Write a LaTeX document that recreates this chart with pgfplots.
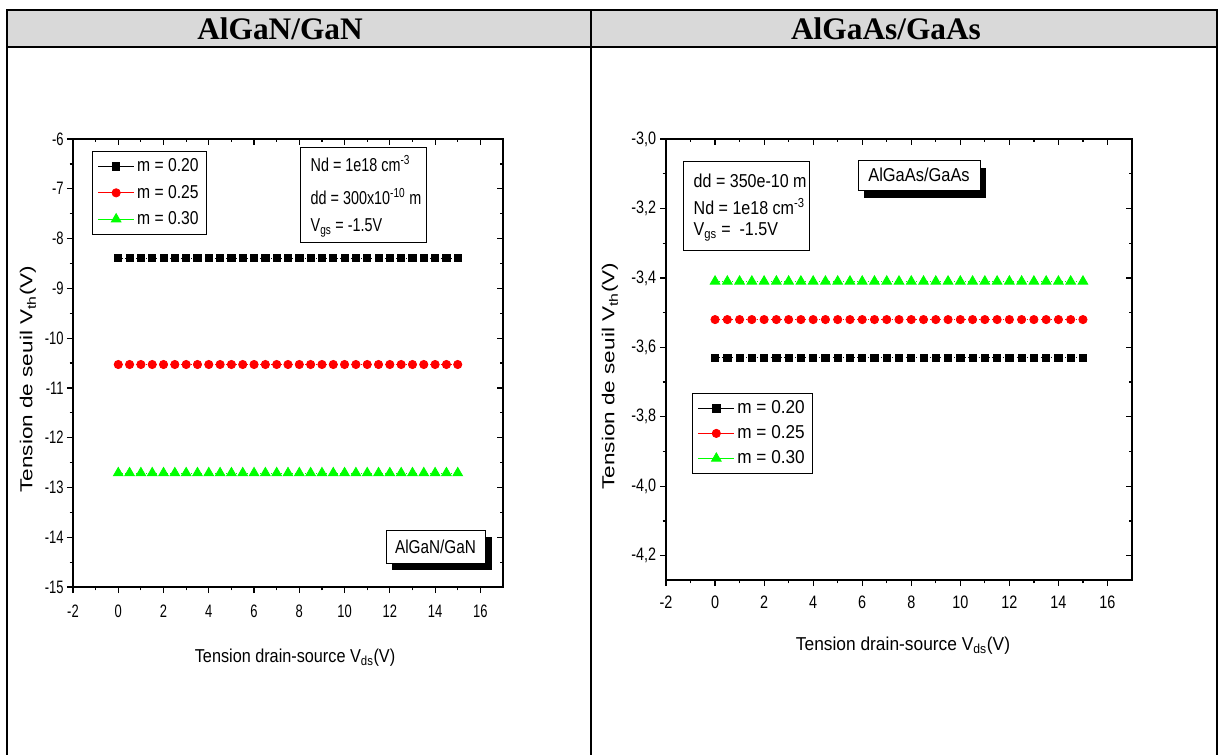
\documentclass[border=0pt]{standalone}
\usepackage{pgfplots}
\pgfplotsset{compat=1.18}
\usepackage{pgfplotstable}
\usepackage{fontspec}
\setmainfont{Liberation Sans}
\newfontfamily\headfont{Liberation Serif}
\usepackage{graphicx}
\newcommand{\nx}[2][0.9]{\scalebox{#1}[1]{#2}}

\pgfplotstableread{
x m20 m25 m30
0 -8.39 -10.53 -12.71
0.5 -8.39 -10.53 -12.71
1 -8.39 -10.53 -12.71
1.5 -8.39 -10.53 -12.71
2 -8.39 -10.53 -12.71
2.5 -8.39 -10.53 -12.71
3 -8.39 -10.53 -12.71
3.5 -8.39 -10.53 -12.71
4 -8.39 -10.53 -12.71
4.5 -8.39 -10.53 -12.71
5 -8.39 -10.53 -12.71
5.5 -8.39 -10.53 -12.71
6 -8.39 -10.53 -12.71
6.5 -8.39 -10.53 -12.71
7 -8.39 -10.53 -12.71
7.5 -8.39 -10.53 -12.71
8 -8.39 -10.53 -12.71
8.5 -8.39 -10.53 -12.71
9 -8.39 -10.53 -12.71
9.5 -8.39 -10.53 -12.71
10 -8.39 -10.53 -12.71
10.5 -8.39 -10.53 -12.71
11 -8.39 -10.53 -12.71
11.5 -8.39 -10.53 -12.71
12 -8.39 -10.53 -12.71
12.5 -8.39 -10.53 -12.71
13 -8.39 -10.53 -12.71
13.5 -8.39 -10.53 -12.71
14 -8.39 -10.53 -12.71
14.5 -8.39 -10.53 -12.71
15 -8.39 -10.53 -12.71
}\leftdata

\pgfplotstableread{
x m20 m25 m30
0 -3.63 -3.52 -3.41
0.5 -3.63 -3.52 -3.41
1 -3.63 -3.52 -3.41
1.5 -3.63 -3.52 -3.41
2 -3.63 -3.52 -3.41
2.5 -3.63 -3.52 -3.41
3 -3.63 -3.52 -3.41
3.5 -3.63 -3.52 -3.41
4 -3.63 -3.52 -3.41
4.5 -3.63 -3.52 -3.41
5 -3.63 -3.52 -3.41
5.5 -3.63 -3.52 -3.41
6 -3.63 -3.52 -3.41
6.5 -3.63 -3.52 -3.41
7 -3.63 -3.52 -3.41
7.5 -3.63 -3.52 -3.41
8 -3.63 -3.52 -3.41
8.5 -3.63 -3.52 -3.41
9 -3.63 -3.52 -3.41
9.5 -3.63 -3.52 -3.41
10 -3.63 -3.52 -3.41
10.5 -3.63 -3.52 -3.41
11 -3.63 -3.52 -3.41
11.5 -3.63 -3.52 -3.41
12 -3.63 -3.52 -3.41
12.5 -3.63 -3.52 -3.41
13 -3.63 -3.52 -3.41
13.5 -3.63 -3.52 -3.41
14 -3.63 -3.52 -3.41
14.5 -3.63 -3.52 -3.41
15 -3.63 -3.52 -3.41
}\rightdata

\definecolor{hdr}{RGB}{217,217,217}
\definecolor{mgreen}{RGB}{0,255,0}

\pgfplotsset{
  base/.style={
    scale only axis,
    xmin=-2, xmax=17,
    xtick={-2,0,...,16},
    minor x tick num=1, minor y tick num=1,
    axis line style={line width=0.9pt},
    every tick/.style={black, line width=0.9pt},
    major tick length=4.5pt, minor tick length=2.5pt,
    /pgf/number format/assume math mode=true,
  },
  mainax/.style={
    base,
    tick align=outside,
    xtick pos=left, ytick pos=left,
    legend cell align=left,
    legend image code/.code={\draw[mark repeat=2,mark phase=2,##1] plot coordinates {(0pt,0pt)(13.5pt,0pt)(27pt,0pt)};},
    legend image post style={solid, line width=0.6pt},
  },
  mirax/.style={
    base,
    tick align=inside,
    xtick pos=right, ytick pos=right,
    xticklabels={}, yticklabels={},
  },
  s20/.style={black, line width=0.6pt, dotted, mark=square*, mark size=2.7pt, mark options={solid}},
  s25/.style={red, line width=0.6pt, dotted, mark=*, mark size=3.1pt, mark options={solid}},
  s30/.style={mgreen, line width=0.6pt, dotted, mark=triangle*, mark size=4.2pt, mark options={solid}},
}

\begin{document}
\begin{tikzpicture}
\useasboundingbox (0,0) rectangle (916.5pt,-565.5pt);

% ---------- table frame ----------
\begin{scope}[x=0.75pt, y=-0.75pt]
  \fill[hdr] (7,10) rectangle (1217,47);
  \draw[line width=1.5pt] (7,760) -- (7,10) -- (1217,10) -- (1217,760);
  \draw[line width=1.5pt] (7,47) -- (1217,47);
  \draw[line width=1.5pt] (591,10) -- (591,760);
  \node[anchor=base, font=\headfont\bfseries\fontsize{23.5}{26}\selectfont] at (280,39.5) {AlGaN/GaN};
  \node[anchor=base, font=\headfont\bfseries\fontsize{23.5}{26}\selectfont] at (886,39.5) {AlGaAs/GaAs};
\end{scope}

% ---------- left plot ----------
\begin{axis}[mainax,
  at={(54.75pt,-440.25pt)}, anchor=south west,
  width=322.5pt, height=336pt,
  ymin=-15, ymax=-6, ytick={-15,-14,...,-6},
  tick label style={font=\fontsize{13.5}{15}\selectfont, xscale=0.72},
  xticklabel style={yshift=-5.5pt},
  legend style={at={(axis description cs:0.044,0.973)}, anchor=north west,
    draw=black, line width=0.75pt, inner xsep=4pt, inner ysep=3pt,
    row sep=3.5pt,
    nodes={inner ysep=2.5pt, inner xsep=2pt},
    font=\fontsize{14}{16}\selectfont},
]
\addplot[s20] table[x=x,y=m20]{\leftdata};
\addlegendentry{\nx[0.84]{m = 0.20}}
\addplot[s25] table[x=x,y=m25]{\leftdata};
\addlegendentry{\nx[0.84]{m = 0.25}}
\addplot[s30] table[x=x,y=m30]{\leftdata};
\addlegendentry{\nx[0.84]{m = 0.30}}
\end{axis}
\begin{axis}[mirax,
  at={(54.75pt,-440.25pt)}, anchor=south west,
  width=322.5pt, height=336pt,
  ymin=-15, ymax=-6, ytick={-15,-14,...,-6},
]
\end{axis}

% ---------- right plot ----------
\begin{axis}[mainax,
  at={(499.5pt,-435pt)}, anchor=south west,
  width=349.5pt, height=330.75pt,
  ymin=-4.27, ymax=-3.0, ytick={-4.2,-4.0,...,-3.0},
  yticklabel style={/pgf/number format/.cd, fixed, fixed zerofill, precision=1, use comma},
  tick label style={font=\fontsize{13.5}{15}\selectfont, xscale=0.8},
  xticklabel style={yshift=-4pt},
  legend style={at={(axis description cs:0.056,0.424)}, anchor=north west,
    draw=black, line width=0.75pt, inner xsep=4pt, inner ysep=3pt,
    row sep=2.5pt,
    nodes={inner ysep=2.5pt, inner xsep=2pt},
    font=\fontsize{14}{16}\selectfont},
]
\addplot[s20] table[x=x,y=m20]{\rightdata};
\addlegendentry{\nx[0.92]{m = 0.20}}
\addplot[s25] table[x=x,y=m25]{\rightdata};
\addlegendentry{\nx[0.92]{m = 0.25}}
\addplot[s30] table[x=x,y=m30]{\rightdata};
\addlegendentry{\nx[0.92]{m = 0.30}}
\end{axis}
\begin{axis}[mirax,
  at={(499.5pt,-435pt)}, anchor=south west,
  width=349.5pt, height=330.75pt,
  ymin=-4.27, ymax=-3.0, ytick={-4.2,-4.0,...,-3.0},
]
\end{axis}

% ---------- annotations ----------
\begin{scope}[x=0.75pt, y=-0.75pt]
  % left info box
  \draw[line width=0.75pt] (300,147) rectangle (426,242);
  \node[anchor=west, font=\fontsize{14}{16}\selectfont] at (306,164) {\nx[0.77]{Nd = 1e18 cm\textsuperscript{-3}}};
  \node[anchor=west, font=\fontsize{14}{16}\selectfont] at (306,197) {\nx[0.77]{dd = 300x10\textsuperscript{-10} m}};
  \node[anchor=west, font=\fontsize{14}{16}\selectfont] at (306,228) {\nx[0.77]{V\textsubscript{gs} = -1.5V}};
  % left shadow box
  \fill[black] (392,537) rectangle (492,570);
  \filldraw[fill=white, draw=black, line width=0.75pt] (386,530) rectangle (485,563);
  \node[font=\fontsize{14}{16}\selectfont] at (435.5,546.5) {\nx[0.82]{AlGaN/GaN}};
  % left axis labels
  \node[rotate=90, xscale=1.3, font=\fontsize{13}{14}\selectfont] at (28,379) {Tension de seuil V\textsubscript{th}(V)};
  \node[font=\fontsize{14}{16}\selectfont] at (295,658) {\nx[0.87]{Tension drain-source V\textsubscript{ds}(V)}};

  % right info box
  \draw[line width=0.75pt] (683,161) rectangle (809,250);
  \node[anchor=west, font=\fontsize{14}{16}\selectfont] at (689,181) {\nx[0.86]{dd = 350e-10 m}};
  \node[anchor=west, font=\fontsize{14}{16}\selectfont] at (689,207) {\nx[0.86]{Nd = 1e18 cm\textsuperscript{-3}}};
  \node[anchor=west, font=\fontsize{14}{16}\selectfont] at (689,232) {\nx[0.86]{V\textsubscript{gs} =\ \ -1.5V}};
  % right shadow box
  \fill[black] (864,168) rectangle (986,198);
  \filldraw[fill=white, draw=black, line width=0.75pt] (858,160) rectangle (980,190);
  \node[font=\fontsize{14}{16}\selectfont] at (919,175) {\nx[0.88]{AlGaAs/GaAs}};
  % right axis labels
  \node[rotate=90, xscale=1.3, font=\fontsize{13}{14}\selectfont] at (610,376) {Tension de seuil V\textsubscript{th}(V)};
  \node[font=\fontsize{14}{16}\selectfont] at (903,646) {\nx[0.93]{Tension drain-source V\textsubscript{ds}(V)}};
\end{scope}
\end{tikzpicture}
\end{document}
